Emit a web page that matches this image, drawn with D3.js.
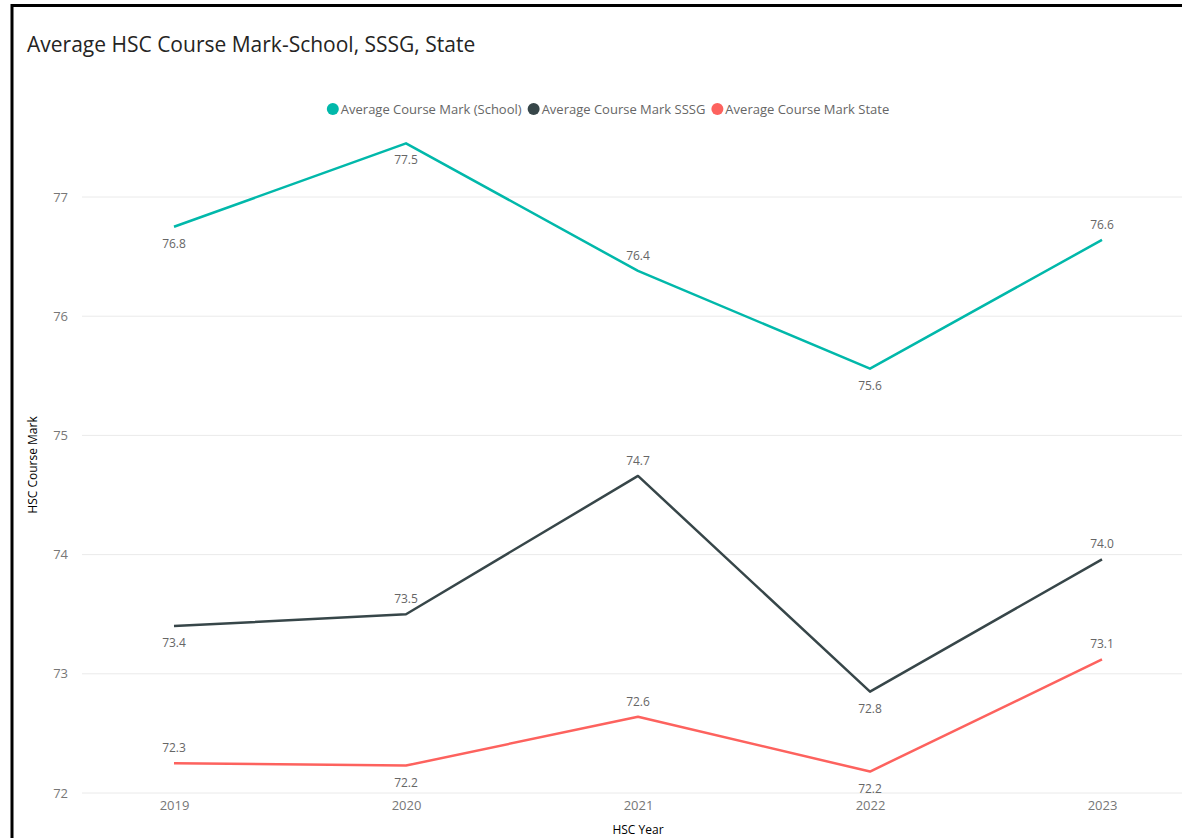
<!DOCTYPE html>
<html>
<head>
<meta charset="utf-8">
<script src="https://cdn.jsdelivr.net/npm/d3@7"></script>
<style>
  body { margin: 0; background: #fff; }
  svg { display: block; }
</style>
</head>
<body>
<div id="chart"></div>
<script>
/* data */
const years = ["2019", "2020", "2021", "2022", "2023"];
const schoolMarks = [76.75, 77.45, 76.38, 75.56, 76.64];
const sssgMarks = [73.40, 73.50, 74.66, 72.85, 73.96];
const stateMarks = [72.25, 72.23, 72.64, 72.18, 73.12];
const seriesNames = ["Average Course Mark (School)", "Average Course Mark SSSG", "Average Course Mark State"];
const yTicks = [72, 73, 74, 75, 76, 77];
// where each data label sits relative to its point
const schoolLabelSide = ["below", "below", "above", "below", "above"];
const sssgLabelSide = ["below", "above", "above", "below", "above"];
const stateLabelSide = ["above", "below", "above", "below", "above"];

const colors = ["#01B8AA", "#374649", "#FD625E"];

const W = 1182, H = 838;

const svg = d3.select("#chart")
    .append("svg")
    .attr("width", W)
    .attr("height", H);

// frame border (cut off on right and bottom)
svg.append("path")
    .attr("d", "M12,900 L12,5.5 L1200,5.5")
    .attr("fill", "none")
    .attr("stroke", "#000")
    .attr("stroke-width", 3);

// title
svg.append("text")
    .attr("x", 27)
    .attr("y", 52)
    .attr("font-family", "'Open Sans', sans-serif")
    .attr("font-size", 21)
    .attr("fill", "#252423")
    .text("Average HSC Course Mark-School, SSSG, State");

// scales
var x = d3.scalePoint()
    .domain(years)
    .range([174, 1102]);

var y = d3.scaleLinear()
    .domain([72, 77])
    .range([793, 197]);

// gridlines
svg.append("g")
    .selectAll("line")
    .data(yTicks)
    .join("line")
    .attr("x1", 82)
    .attr("x2", W)
    .attr("y1", d => y(d))
    .attr("y2", d => y(d))
    .attr("stroke", "#eaeaea")
    .attr("stroke-width", 1);

// Y axis
const yAxis = svg.append("g")
    .attr("transform", "translate(74,0)")
    .call(d3.axisLeft(y).tickValues(yTicks).tickSize(0).tickPadding(6).tickFormat(d3.format("d")));
yAxis.select(".domain").remove();
yAxis.selectAll("text")
    .attr("font-family", "'Open Sans', sans-serif")
    .attr("font-size", 13)
    .attr("fill", "#777");

// X axis
const xAxis = svg.append("g")
    .attr("transform", "translate(0,797)")
    .call(d3.axisBottom(x).tickSize(0).tickPadding(4));
xAxis.select(".domain").remove();
xAxis.selectAll("text")
    .attr("font-family", "'Open Sans', sans-serif")
    .attr("font-size", 13)
    .attr("fill", "#777");

// axis titles
svg.append("text")
    .attr("transform", "translate(37,465) rotate(-90)")
    .attr("text-anchor", "middle")
    .attr("font-family", "'Open Sans', sans-serif")
    .attr("font-size", 12)
    .attr("fill", "#000")
    .text("HSC Course Mark");

svg.append("text")
    .attr("x", 638)
    .attr("y", 834)
    .attr("text-anchor", "middle")
    .attr("font-family", "'Open Sans', sans-serif")
    .attr("font-size", 12)
    .attr("fill", "#000")
    .text("HSC Year");

// series
const series = [
    { name: seriesNames[0], values: schoolMarks, sides: schoolLabelSide, color: colors[0] },
    { name: seriesNames[1], values: sssgMarks, sides: sssgLabelSide, color: colors[1] },
    { name: seriesNames[2], values: stateMarks, sides: stateLabelSide, color: colors[2] }
];

const line = d3.line()
    .x((d, i) => x(years[i]))
    .y(d => y(d));

series.forEach(function (s) {
    svg.append("path")
        .datum(s.values)
        .attr("fill", "none")
        .attr("stroke", s.color)
        .attr("stroke-width", 2.5)
        .attr("stroke-linejoin", "round")
        .attr("d", line);

    svg.append("g")
        .selectAll("text")
        .data(s.values)
        .join("text")
        .attr("x", (d, i) => x(years[i]))
        .attr("y", (d, i) => s.sides[i] === "above" ? y(d) - 11 : y(d) + 21)
        .attr("text-anchor", "middle")
        .attr("font-family", "'Open Sans', sans-serif")
        .attr("font-size", 12)
        .attr("fill", "#666")
        .text(d => d3.format(".1f")(d));
});

// legend, centred around x = 608
const legend = svg.append("g")
    .attr("font-family", "'Open Sans', sans-serif")
    .attr("font-size", 13);

let lx = 0;
series.forEach(function (s) {
    legend.append("circle")
        .attr("cx", lx + 6)
        .attr("cy", 109)
        .attr("r", 6)
        .attr("fill", s.color);
    const t = legend.append("text")
        .attr("x", lx + 14)
        .attr("y", 113.5)
        .attr("fill", "#666")
        .text(s.name);
    lx += 14 + t.node().getComputedTextLength() + 6;
});
legend.attr("transform", "translate(" + (608 - (lx - 6) / 2) + ",0)");
</script>
</body>
</html>
